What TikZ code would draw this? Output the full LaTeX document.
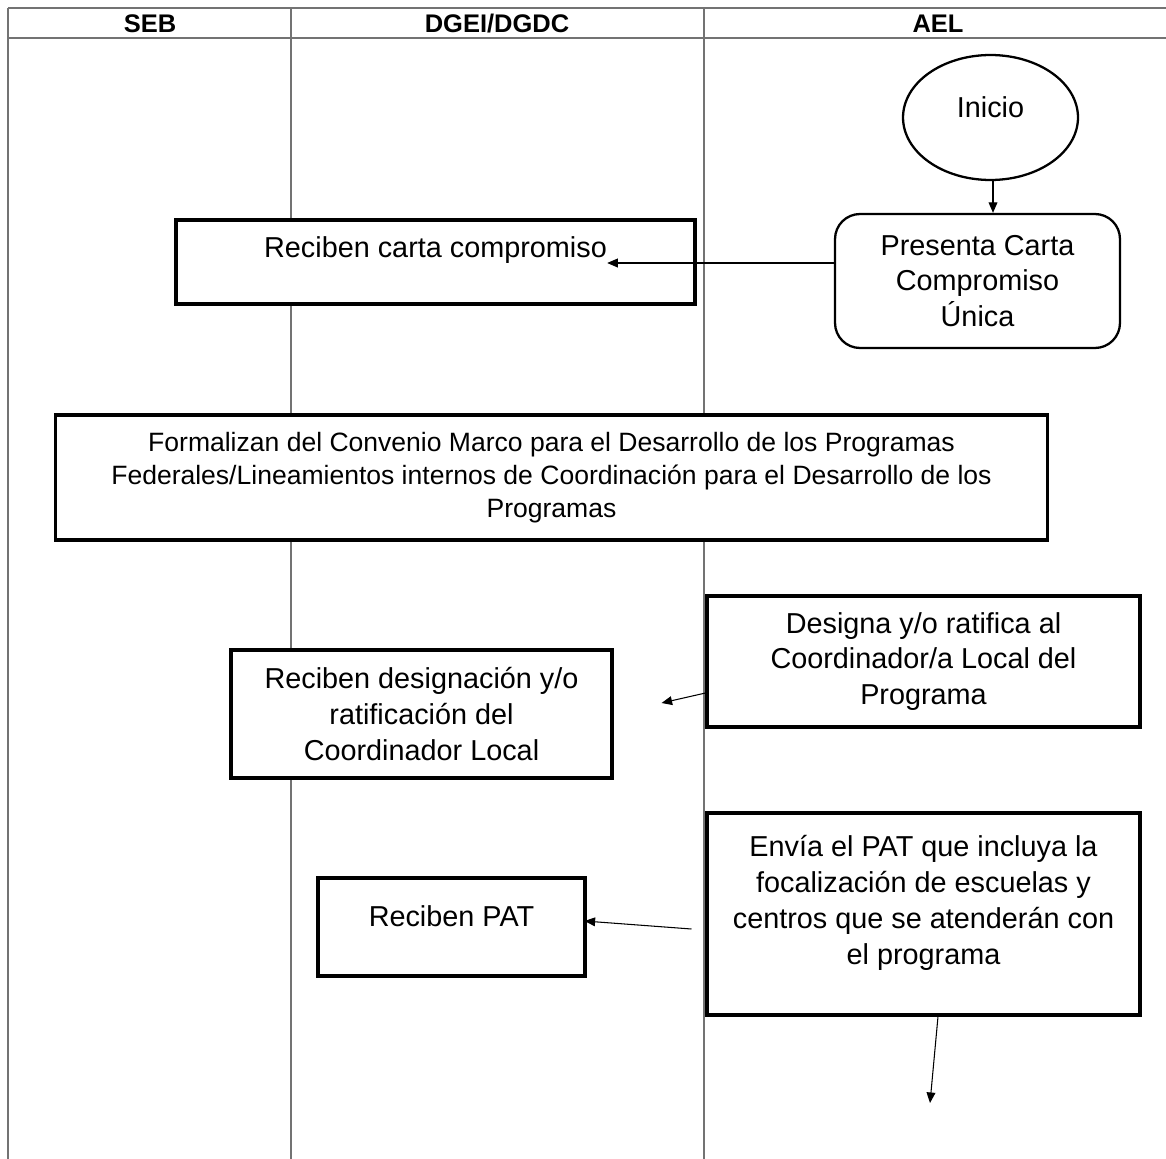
\documentclass[tikz,border=0pt]{standalone}
\usepackage{fontspec}
\setmainfont{Liberation Sans}
\usetikzlibrary{shapes.geometric,arrows.meta}

\tikzset{
	carril/.style={draw=black!55, line width=0.6pt},
	titulo/.style={font=\fontsize{14.5}{16}\selectfont\bfseries, text height=10.5pt, text depth=0pt, inner sep=0pt},
	caja/.style={draw, fill=white, line width=1.8pt, inner sep=0pt, align=center, font=\fontsize{16.4}{20.4}\selectfont},
	texto/.style={inner sep=0pt, align=center, font=\fontsize{16.4}{20.4}\selectfont},
	flecha/.style={-{Triangle[length=6pt,width=5pt]}, line width=0.6pt}
}

\begin{document}
\begin{tikzpicture}[x=0.02cm,y=-0.02cm]
	\useasboundingbox (0,0) rectangle (1166,1159);
	% carriles
	\draw[carril] (8,8) -- (1166,8);
	\draw[carril] (8,38) -- (1166,38);
	\foreach \xc in {8,291,704}{
		\draw[carril] (\xc,8) -- (\xc,1159);}
	\node[titulo] (seb) at (150,23) {SEB};
	\node[titulo] (dgei) at (497,23) {DGEI/DGDC};
	\node[titulo] (ael) at (938,23) {AEL};
	% pasos
	\node[draw, fill=white, ellipse, line width=1.3pt, minimum width=3.5cm, minimum height=2.5cm] (inicio) at (990.5,117.5) {};
	\node[texto] (iniciot) at (990.5,107) {Inicio};
	\node[caja, line width=1.3pt, rounded corners=0.5cm, minimum width=5.7cm, minimum height=2.68cm] (presenta) at (977.5,281) {Presenta Carta\\Compromiso\\Única};
	\node[caja, minimum width=10.38cm, minimum height=1.68cm] (rcarta) at (435.5,262) {};
	\node[texto] (rcartat) at (435.5,250) {Reciben carta compromiso};
	\node[caja, minimum width=19.86cm, minimum height=2.5cm, font=\fontsize{15.1}{18.8}\selectfont] (convenio) at (551.5,477.5)
		{Formalizan del Convenio Marco para el Desarrollo de los Programas\\Federales/Lineamientos internos de Coordinación para el Desarrollo de los\\Programas};
	\node[caja, minimum width=8.66cm, minimum height=2.62cm] (designa) at (923.5,661.5) {Designa y/o ratifica al\\Coordinador/a Local del\\Programa};
	\node[caja, minimum width=7.62cm, minimum height=2.56cm] (rdesig) at (421.5,714) {Reciben designación y/o\\ratificación del\\Coordinador Local};
	\node[caja, minimum width=8.66cm, minimum height=4.04cm] (envia) at (923.5,914) {};
	\node[texto] (enviat) at (923.5,903) {Envía el PAT que incluya la\\focalización de escuelas y\\centros que se atenderán con\\el programa};
	\node[caja, minimum width=5.34cm, minimum height=1.96cm] (rpat) at (451.5,927) {};
	\node[texto] (rpatt) at (451.5,916) {Reciben PAT};
	\coordinate (sigue) at (930,1103);
	% flechas
	\draw[flecha] ([xshift=0.05cm]inicio.south) -- ([xshift=0.05cm]inicio.south |- presenta.north);
	\coordinate (c1) at ([yshift=0.36cm]presenta.west);
	\draw[flecha] (c1) -- (c1 -| rcartat.east);
	\draw[flecha] ([yshift=-0.63cm]designa.west) -- ([xshift=0.96cm,yshift=0.22cm]rdesig.east);
	\draw[flecha] ([xshift=-0.28cm,yshift=-0.3cm]envia.west) -- ([xshift=-0.04cm,yshift=0.12cm]rpat.east);
	\draw[flecha] ([xshift=0.29cm]envia.south) -- (sigue);
\end{tikzpicture}
\end{document}
